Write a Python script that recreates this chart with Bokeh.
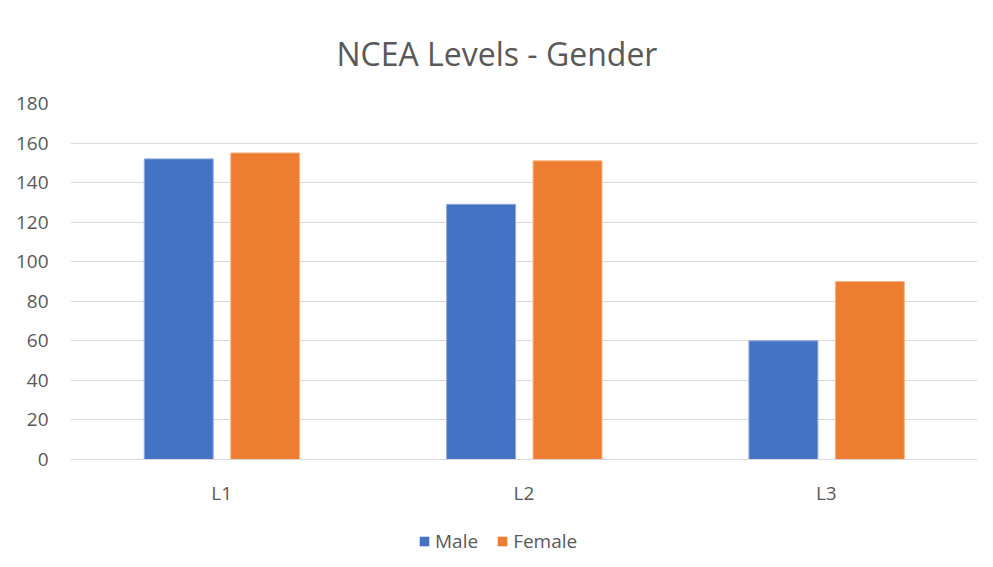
from bokeh.plotting import figure
from bokeh.models import FactorRange, Range1d, Legend, LegendItem, ColumnDataSource
from bokeh.transform import dodge
from bokeh.layouts import column
from bokeh.embed import file_html
from bokeh.resources import INLINE

levels = ["L1", "L2", "L3"]
male = [152, 129, 60]
female = [155, 151, 90]
y_ticks = [0, 20, 40, 60, 80, 100, 120, 140, 160, 180]

FONT = "Open Sans"
TXT = "#595959"
GRID = "#d9d9d9"
BLUE = "#4472C4"
ORANGE = "#ED7D31"

src = ColumnDataSource(dict(level=levels, male=male, female=female))

p = figure(width=993, height=510, x_range=FactorRange(factors=levels, range_padding=0),
           y_range=Range1d(0, 180), output_backend="svg", toolbar_location=None,
           min_border_left=70, min_border_right=16, min_border_top=103, min_border_bottom=51)

p.title.text = "NCEA Levels - Gender"
p.title.align = "left"
p.title.offset = 266
p.title.text_font = FONT
p.title.text_font_size = "32px"
p.title.text_font_style = "normal"
p.title.text_color = TXT
p.title.standoff = 58

p.vbar(x=dodge("level", -0.142, range=p.x_range), top="male", width=0.228, source=src,
       fill_color=BLUE, line_color="#8fa9dc", line_width=1)
p.vbar(x=dodge("level", 0.144, range=p.x_range), top="female", width=0.228, source=src,
       fill_color=ORANGE, line_color="#f5b58a", line_width=1)

p.outline_line_color = None
p.xgrid.grid_line_color = None
p.ygrid.grid_line_color = GRID
p.ygrid.grid_line_width = 1
p.yaxis.ticker = y_ticks
p.yaxis.axis_line_color = None
p.yaxis.major_tick_line_color = None
p.yaxis.minor_tick_line_color = None
p.yaxis.major_tick_out = 0
p.yaxis.major_label_text_font = FONT
p.yaxis.major_label_text_font_size = "19px"
p.yaxis.major_label_text_color = TXT
p.yaxis.major_label_standoff = 22

p.xaxis.axis_line_color = GRID
p.xaxis.axis_line_width = 1
p.xaxis.major_tick_line_color = None
p.xaxis.minor_tick_line_color = None
p.xaxis.major_tick_out = 0
p.xaxis.major_label_text_font = FONT
p.xaxis.major_label_text_font_size = "19px"
p.xaxis.major_label_text_color = TXT
p.xaxis.major_label_standoff = 20

# legend strip below the chart (proxy bars have zero size, so only their legend swatches show)
p2 = figure(width=993, height=57, x_range=Range1d(0, 1), y_range=Range1d(0, 1),
            output_backend="svg", toolbar_location=None, min_border=0,
            x_axis_location=None, y_axis_location=None)
p2.outline_line_color = None
p2.xgrid.grid_line_color = None
p2.ygrid.grid_line_color = None
lr1 = p2.vbar(x=[0.5], top=[0], bottom=[0], width=0, fill_color=BLUE, line_color=None)
lr2 = p2.vbar(x=[0.5], top=[0], bottom=[0], width=0, fill_color=ORANGE, line_color=None)

legend = Legend(items=[LegendItem(label="Male", renderers=[lr1]), LegendItem(label="Female", renderers=[lr2])],
                orientation="horizontal", location=(348, 13), border_line_color=None,
                background_fill_alpha=0, label_text_font=FONT, label_text_font_size="19px",
                label_text_color=TXT, glyph_width=12, glyph_height=12, spacing=18,
                label_standoff=5, margin=0, padding=0)
p2.add_layout(legend, "center")

layout = column(p, p2, spacing=0)
open("out.html", "w").write(file_html(layout, INLINE))
